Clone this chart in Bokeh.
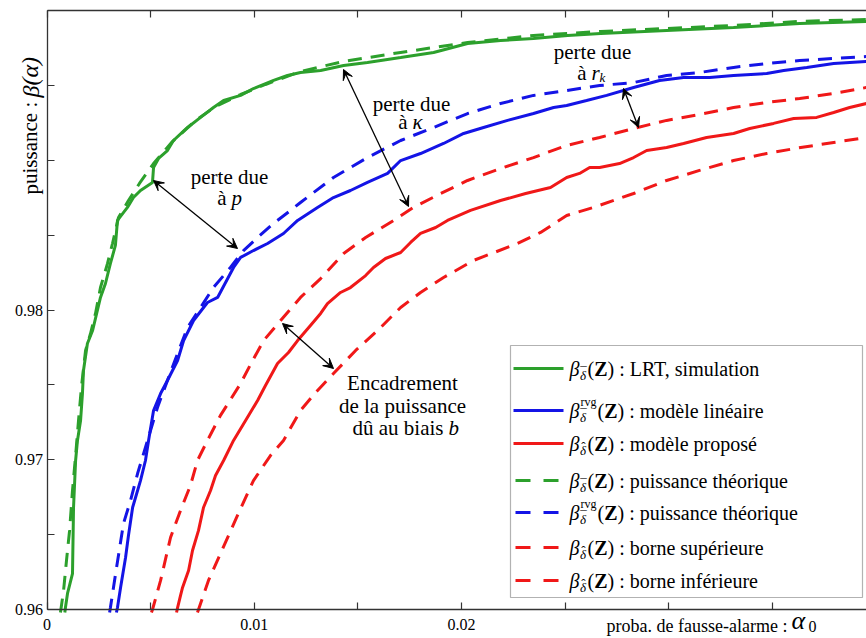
from bokeh.plotting import figure
from bokeh.models import (Range1d, FixedTicker, LinearAxis, CustomJSTickFormatter,
                          Label, Arrow, VeeHead, BoxAnnotation)
from bokeh.embed import file_html
from bokeh.resources import INLINE

# ---------------- data ----------------
# LRT, simulation (green solid)
x_lrt_sim = [0.00086, 0.00089, 0.00099, 0.00123, 0.00128, 0.00138, 0.00147, 0.00162, 0.00171, 0.00176,
             0.00195, 0.0022, 0.00258, 0.00282, 0.00306, 0.0033, 0.0034, 0.00388, 0.00417, 0.00451,
             0.00509, 0.00514, 0.00538, 0.00581, 0.0061, 0.00678, 0.00741, 0.00803, 0.00852, 0.00934,
             0.00996, 0.01093, 0.0116, 0.01223, 0.0132, 0.01431, 0.01546, 0.01706, 0.01865, 0.02029,
             0.02188, 0.02347, 0.02511, 0.02671, 0.02989, 0.03312, 0.03631, 0.03954]
y_lrt_sim = [0.9598, 0.96013, 0.96107, 0.9624, 0.96681, 0.96995, 0.97129, 0.97262, 0.97442, 0.97596,
             0.97776, 0.97863, 0.98084, 0.98177, 0.98311, 0.98431, 0.98598, 0.98685, 0.98751, 0.98798,
             0.98852, 0.98952, 0.99012, 0.99065, 0.99132, 0.99219, 0.99286, 0.99352, 0.99399, 0.99433,
             0.99479, 0.99533, 0.99566, 0.99586, 0.99599, 0.99633, 0.99653, 0.99686, 0.9972, 0.9978,
             0.998, 0.99813, 0.99833, 0.99847, 0.99867, 0.99887, 0.99913, 0.99927]

# LRT, theoretical power (green dashed)
x_lrt_th = [0.00065, 0.0008, 0.00094, 0.00109, 0.00123, 0.00138, 0.00152, 0.00167, 0.00186, 0.0021,
            0.00234, 0.00258, 0.00292, 0.00316, 0.00345, 0.00393, 0.00446, 0.00514, 0.00601, 0.00717,
            0.00813, 0.00934, 0.01054, 0.01223, 0.01431, 0.01706, 0.02029, 0.02347, 0.02671, 0.02989,
            0.03312, 0.03631, 0.03954]
y_lrt_th = [0.9598, 0.96127, 0.96327, 0.96528, 0.96795, 0.97028, 0.97262, 0.97496, 0.9773, 0.97843,
            0.97977, 0.9815, 0.98311, 0.98444, 0.98618, 0.98731, 0.98845, 0.98978, 0.99119, 0.99266,
            0.99359, 0.99439, 0.99506, 0.99593, 0.9966, 0.9972, 0.99786, 0.99833, 0.9986, 0.9988,
            0.999, 0.99927, 0.9994]

# linear model (blue solid)
x_lin_sim = [0.00335, 0.0034, 0.00355, 0.00379, 0.00393, 0.00413, 0.00451, 0.00475, 0.0049, 0.00514,
             0.00548, 0.00581, 0.0063, 0.00659, 0.00707, 0.00774, 0.00823, 0.009, 0.00934, 0.00996,
             0.01064, 0.01141, 0.01209, 0.01305, 0.01382, 0.01464, 0.01546, 0.01643, 0.01706, 0.01802,
             0.01913, 0.0201, 0.02106, 0.02222, 0.02347, 0.02444, 0.02507, 0.02603, 0.027, 0.0283,
             0.02955, 0.03071, 0.03197, 0.03312, 0.03472, 0.03554, 0.03665, 0.03795, 0.03954]
y_lin_sim = [0.9598, 0.96013, 0.96147, 0.96347, 0.96494, 0.96681, 0.96861, 0.96995, 0.97129, 0.97329,
             0.97442, 0.97529, 0.97663, 0.97796, 0.9793, 0.9805, 0.98084, 0.98284, 0.98351, 0.98397,
             0.98444, 0.98511, 0.98598, 0.98685, 0.98751, 0.98798, 0.98852, 0.98912, 0.98998, 0.99045,
             0.99112, 0.99179, 0.99219, 0.99266, 0.99312, 0.99352, 0.99366, 0.99399, 0.99433, 0.99486,
             0.99533, 0.99553, 0.99553, 0.99566, 0.99579, 0.99599, 0.9962, 0.99646, 0.9966]

# linear model, theoretical power (blue dashed)
x_lin_th = [0.00302, 0.00306, 0.00331, 0.00369, 0.00403, 0.00437, 0.00485, 0.00533, 0.00581, 0.0063,
            0.00678, 0.00741, 0.00803, 0.00885, 0.00948, 0.01016, 0.01093, 0.01175, 0.01223, 0.01382,
            0.01546, 0.01706, 0.01865, 0.02029, 0.02188, 0.02347, 0.02507, 0.02666, 0.0283, 0.02989,
            0.03148, 0.03312, 0.03472, 0.03631, 0.03795, 0.03954]
y_lin_th = [0.9598, 0.96013, 0.9624, 0.96574, 0.96728, 0.96908, 0.97129, 0.97349, 0.97529, 0.9771,
            0.97883, 0.98017, 0.9815, 0.98284, 0.98397, 0.98484, 0.98578, 0.98665, 0.98718, 0.98885,
            0.99018, 0.99132, 0.99219, 0.99312, 0.99379, 0.99433, 0.99466, 0.99499, 0.99519, 0.99566,
            0.99586, 0.9962, 0.99646, 0.99666, 0.9968, 0.99693]

# proposed model (red solid)
x_prop_sim = [0.00625, 0.0063, 0.00644, 0.00654, 0.00683, 0.00702, 0.00731, 0.00755, 0.00789, 0.00813,
              0.00852, 0.009, 0.00958, 0.01016, 0.01054, 0.01112, 0.01165, 0.01209, 0.01271, 0.0132,
              0.01353, 0.01416, 0.01464, 0.01537, 0.01575, 0.01633, 0.01706, 0.01754, 0.01802, 0.01875,
              0.01932, 0.02043, 0.02188, 0.02309, 0.02429, 0.02507, 0.02569, 0.02618, 0.02666, 0.02762,
              0.0283, 0.02893, 0.02989, 0.03071, 0.03182, 0.03312, 0.0339, 0.03505, 0.03602, 0.03713,
              0.03795, 0.03872, 0.03954]
y_prop_sim = [0.9598, 0.96013, 0.96093, 0.96147, 0.9626, 0.96394, 0.96528, 0.96681, 0.96795, 0.96895,
              0.96995, 0.97129, 0.97262, 0.97396, 0.97496, 0.97643, 0.97716, 0.97796, 0.97897, 0.97977,
              0.98043, 0.98117, 0.9815, 0.9823, 0.98284, 0.98344, 0.98384, 0.98451, 0.98511, 0.98551,
              0.98598, 0.98665, 0.98731, 0.98778, 0.98818, 0.98885, 0.98912, 0.98952, 0.98952, 0.98978,
              0.99018, 0.99065, 0.99085, 0.99112, 0.99152, 0.99179, 0.99212, 0.99246, 0.99279, 0.99286,
              0.99319, 0.99352, 0.99379]

# proposed model, upper bound (red dashed)
x_prop_up = [0.00504, 0.00509, 0.00548, 0.00596, 0.00644, 0.00692, 0.00726, 0.00774, 0.00837, 0.00934,
             0.00992, 0.01045, 0.01127, 0.01223, 0.0132, 0.01431, 0.01537, 0.01672, 0.01768, 0.01899,
             0.02029, 0.02188, 0.02347, 0.02507, 0.02666, 0.0283, 0.02989, 0.03148, 0.03312, 0.03472,
             0.03631, 0.03795, 0.03954]
y_prop_up = [0.9598, 0.96, 0.96194, 0.96481, 0.96661, 0.96828, 0.96995, 0.97129, 0.97296, 0.97509,
             0.97663, 0.97796, 0.9793, 0.98084, 0.9821, 0.98377, 0.98484, 0.98598, 0.98685, 0.98778,
             0.98865, 0.98945, 0.99018, 0.99099, 0.99152, 0.99212, 0.99266, 0.99306, 0.99352, 0.99386,
             0.99412, 0.99446, 0.99486]

# proposed model, lower bound (red dashed)
x_prop_low = [0.00726, 0.00731, 0.00779, 0.00837, 0.00919, 0.00996, 0.01078, 0.01141, 0.01223, 0.01296,
              0.01382, 0.01489, 0.01595, 0.01706, 0.01802, 0.01913, 0.02058, 0.0227, 0.02381, 0.02507,
              0.02637, 0.0283, 0.02989, 0.03148, 0.03312, 0.03472, 0.03636, 0.03795, 0.03954]
y_prop_low = [0.9598, 0.96, 0.96194, 0.96374, 0.96628, 0.96861, 0.97028, 0.97129, 0.97329, 0.97449,
              0.97576, 0.9773, 0.97863, 0.98017, 0.98117, 0.98217, 0.98331, 0.98444, 0.98518, 0.98631,
              0.98685, 0.98778, 0.98865, 0.98932, 0.98998, 0.99045, 0.99085, 0.99119, 0.99152]

# ticks
x_major = [0, 0.01, 0.02]
x_minor = [0.005, 0.015, 0.025, 0.03, 0.035]
y_major = [0.96, 0.97, 0.98]
y_minor = [0.965, 0.975, 0.985, 0.99, 0.995, 1.0]
x_lo, y_lo, y_hi = 0.0, 0.96, 1.0

# legend texts
legend_sup = ["", "rvg", "", "", "rvg", "", ""]
legend_acc = ["\u00af", "\u00af", "\u02c6", "\u00af", "\u00af", "\u02c6", "\u02c6"]
legend_text = ["LRT, simulation", "modèle linéaire", "modèle proposé", "puissance théorique",
               "puissance théorique", "borne supérieure", "borne inférieure"]

# ---------------- layout & styles ----------------
GREEN, BLUE, RED = "#2ca02c", "#1414e6", "#f01818"
FONT = "Liberation Serif"
DASH = "14 9"
W, H = 866, 638
X0_PX, Y_TOP_PX, Y_BOT_PX = 46.5, 10, 609      # where x=0, y=1, y=0.96 sit on the page
PX_PER_X = 20729.0
PX_PER_Y = (Y_BOT_PX - Y_TOP_PX) / (y_hi - y_lo)


def dx(px):
    return x_lo + (px - X0_PX) / PX_PER_X


def dy(py):
    return y_hi - (py - Y_TOP_PX) / PX_PER_Y


p = figure(width=W, height=H, x_range=Range1d(dx(0), dx(W)), y_range=Range1d(dy(H), dy(0)),
           output_backend="svg", toolbar_location=None, x_axis_type=None, y_axis_type=None,
           min_border=0, min_border_left=0, min_border_right=0, min_border_top=0, min_border_bottom=0)
p.xgrid.visible = False
p.ygrid.visible = False
p.outline_line_color = None
p.background_fill_color = "white"
p.border_fill_color = "white"

fmt = CustomJSTickFormatter(code="return tick.toString();")


def style_axis(ax, standoff, size="16px"):
    ax.axis_line_color = "#333333"
    ax.axis_line_width = 1.3
    ax.major_tick_in = 7
    ax.major_tick_out = 0
    ax.minor_tick_in = 7
    ax.minor_tick_out = 0
    ax.major_tick_line_color = "#333333"
    ax.minor_tick_line_color = "#333333"
    ax.major_tick_line_width = 1.2
    ax.minor_tick_line_width = 1.2
    ax.major_label_text_font = FONT
    ax.major_label_text_font_size = size
    ax.major_label_text_color = "black"
    ax.major_label_standoff = standoff


bottom = LinearAxis(ticker=FixedTicker(ticks=x_major, minor_ticks=x_minor), formatter=fmt,
                    fixed_location=y_lo, bounds=(x_lo, dx(W)))
style_axis(bottom, 9)
p.add_layout(bottom, "below")

left = LinearAxis(ticker=FixedTicker(ticks=y_major, minor_ticks=y_minor), formatter=fmt,
                  fixed_location=x_lo, bounds=(y_lo, y_hi))
style_axis(left, 4)
p.add_layout(left, "left")

# top border: ticks only (all as minor ticks, so that no label is produced)
top = LinearAxis(ticker=FixedTicker(ticks=[], minor_ticks=sorted(x_major + x_minor)), formatter=fmt,
                 fixed_location=y_hi, bounds=(x_lo, dx(W)))
style_axis(top, 0)
p.add_layout(top, "above")

# ---------------- curves ----------------
LW = 3
p.line(x_prop_low, y_prop_low, color=RED, line_width=LW, line_dash=DASH)
p.line(x_prop_up, y_prop_up, color=RED, line_width=LW, line_dash=DASH)
p.line(x_prop_sim, y_prop_sim, color=RED, line_width=LW)
p.line(x_lin_th, y_lin_th, color=BLUE, line_width=LW, line_dash=DASH)
p.line(x_lin_sim, y_lin_sim, color=BLUE, line_width=LW)
p.line(x_lrt_th, y_lrt_th, color=GREEN, line_width=LW, line_dash=DASH)
p.line(x_lrt_sim, y_lrt_sim, color=GREEN, line_width=LW)


def lab(text, px, py, size="20px", style="normal", align="left", angle=0.0):
    p.add_layout(Label(x=dx(px), y=dy(py), text=text, text_font=FONT, text_font_size=size,
                       text_font_style=style, text_align=align, text_baseline="middle",
                       angle=angle, text_color="black"))


def arrow(px0, py0, px1, py1):
    p.add_layout(Arrow(x_start=dx(px0), y_start=dy(py0), x_end=dx(px1), y_end=dy(py1),
                       line_color="black", line_width=1.3,
                       start=VeeHead(size=10, fill_color="black", line_color="black", line_width=1),
                       end=VeeHead(size=10, fill_color="black", line_color="black", line_width=1)))


# annotations
lab("perte due", 229, 176, size="21px", align="center")
lab("à", 226, 197, size="21px", align="right")
lab("p", 231, 197, size="21px", style="italic")
arrow(153, 180, 237, 248)

lab("perte due", 411, 103, size="21px", align="center")
lab("à", 407, 121, size="21px", align="right")
lab("κ", 412, 121, size="21px", style="italic")
arrow(343, 69, 408, 206)

lab("perte due", 592, 51, size="21px", align="center")
lab("à", 586, 72, size="21px", align="right")
lab("r", 591, 72, size="21px", style="italic")
lab("k", 599, 77, size="13px", style="italic")
arrow(623, 88, 638, 127)

lab("Encadrement", 402, 382, size="21px", align="center")
lab("de la puissance", 402, 405, size="21px", align="center")
lab("dû au biais", 443, 427, size="21px", align="right")
lab("b", 448, 427, size="21px", style="italic")
arrow(282, 323, 333, 368)

# axis titles
lab("proba. de fausse-alarme :", 787, 625, size="18px", align="right")
lab("α", 791, 620, size="26px", style="italic")
lab("0", 808, 626, size="16px")
lab("puissance :", 30, 194, size="21px", angle=1.5708)
lab("β(α)", 30, 97, size="24px", style="italic", angle=1.5708)

# legend
p.add_layout(BoxAnnotation(left=dx(510), right=dx(862), top=dy(345), bottom=dy(597),
                           fill_color="white", fill_alpha=1.0, line_color="black",
                           line_width=1.2, level="underlay"))
row_py = [368, 410, 443, 480, 512, 547, 580]
row_color = [GREEN, BLUE, RED, GREEN, BLUE, RED, RED]
row_dashed = [False, False, False, True, True, True, True]
for i, py in enumerate(row_py):
    if row_dashed[i]:
        p.segment(x0=[dx(515)], y0=[dy(py)], x1=[dx(558)], y1=[dy(py)],
                  line_color=row_color[i], line_width=LW, line_dash="15 13")
    else:
        p.segment(x0=[dx(513)], y0=[dy(py)], x1=[dx(563)], y1=[dy(py)],
                  line_color=row_color[i], line_width=LW)
    lab("β", 569, py, style="italic")
    lab("δ", 582.5, py + 7, size="13px", style="italic", align="center")
    lab(legend_acc[i], 583, py + 3, size="13px", align="center")
    a = 587
    if legend_sup[i]:
        lab(legend_sup[i], 580, py - 9, size="12px")
        a = 597
    lab("(", a, py)
    lab("Z", a + 6.7, py, style="bold")
    lab(") : " + legend_text[i], a + 20, py)

open("out.html", "w").write(file_html(p, INLINE))
